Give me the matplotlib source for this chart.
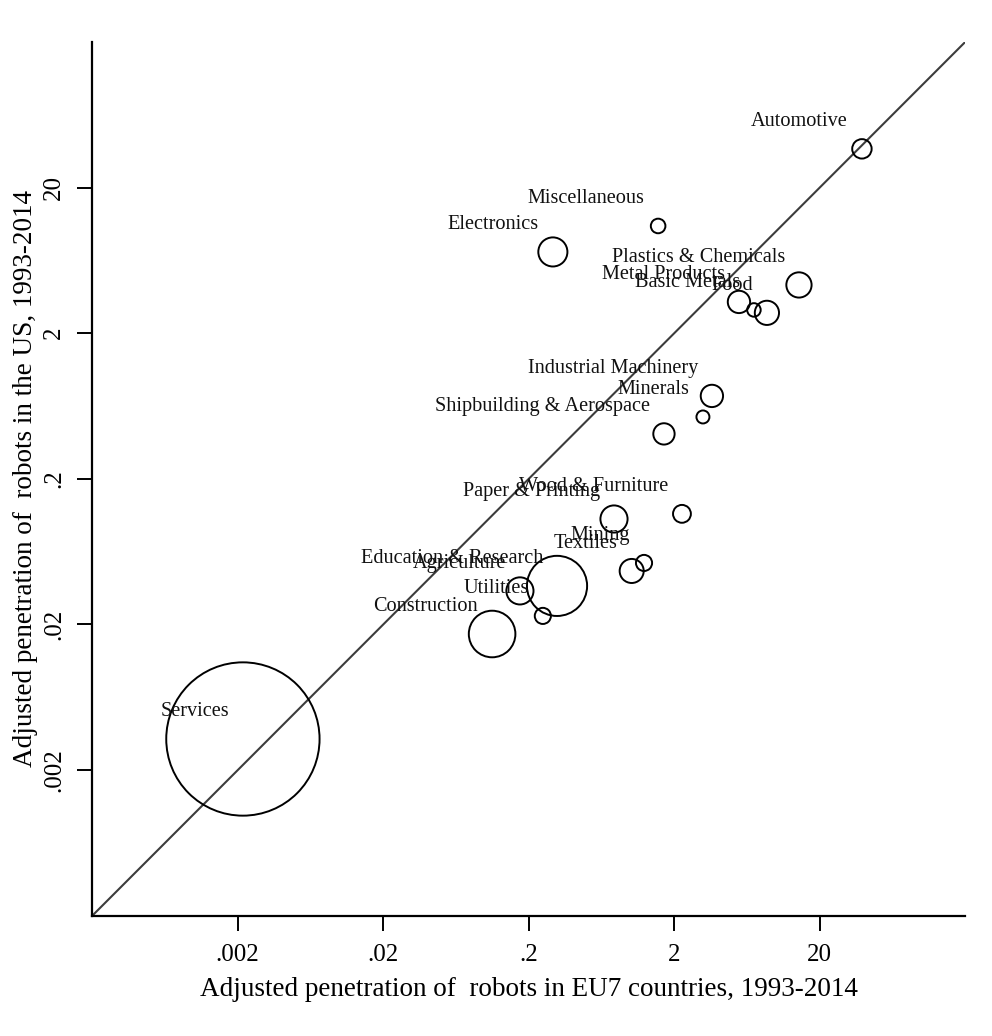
import numpy as np
import matplotlib
matplotlib.use("Agg")
import matplotlib.pyplot as plt
from matplotlib.ticker import FixedLocator, FixedFormatter, NullLocator

# Industry-level robot penetration, 1993-2014
industries = [
    "Automotive", "Miscellaneous", "Electronics", "Plastics & Chemicals",
    "Metal Products", "Basic Metals", "Food", "Industrial Machinery",
    "Minerals", "Shipbuilding & Aerospace", "Wood & Furniture",
    "Paper & Printing", "Mining", "Textiles", "Education & Research",
    "Agriculture", "Utilities", "Construction", "Services",
]
eu7_penetration = [
    39.0, 1.55, 0.293, 14.4,
    5.57, 7.06, 8.67, 3.63,
    3.15, 1.70, 2.26,
    0.771, 1.24, 1.02, 0.313,
    0.174, 0.250, 0.112, 0.00217,
]
us_penetration = [
    36.9, 10.9, 7.23, 4.29,
    3.28, 2.89, 2.76, 0.742,
    0.532, 0.407, 0.115,
    0.106, 0.0529, 0.0466, 0.0368,
    0.0340, 0.0229, 0.0172, 0.00327,
]
# employment share (%) used as bubble weight
employment_share = [
    1.03, 0.58, 2.31, 1.74,
    1.36, 0.50, 1.60, 1.36,
    0.46, 1.24, 0.87,
    2.01, 0.71, 1.58, 9.87,
    2.01, 0.71, 5.92, 64.13,
]
tick_values = [0.002, 0.02, 0.2, 2, 20]
tick_labels = [".002", ".02", ".2", "2", "20"]

plt.rcParams["font.family"] = ["Liberation Serif", "DejaVu Serif"]

fig = plt.figure(figsize=(9.92, 10.36), dpi=100)
ax = fig.add_axes([0.0930, 0.1161, 0.8800, 0.8434])

lo, hi = 0.0002, 200
ax.set_xscale("log")
ax.set_yscale("log")
ax.set_xlim(lo, hi)
ax.set_ylim(lo, hi)

# 45-degree reference line
ax.plot([lo, hi], [lo, hi], color="#3c3c3c", lw=1.5, zorder=1)

sizes = np.asarray(employment_share) * 190.0
ax.scatter(eu7_penetration, us_penetration, s=sizes, facecolors="none",
           edgecolors="black", linewidths=1.4, zorder=2)

for name, xv, yv in zip(industries, eu7_penetration, us_penetration):
    ax.annotate(name, (xv, yv), xytext=(-10, 16.5), textcoords="offset points",
                ha="right", va="baseline", fontsize=14.6, color="#111111",
                zorder=3)

for side in ("top", "right"):
    ax.spines[side].set_visible(False)
for side in ("left", "bottom"):
    ax.spines[side].set_linewidth(1.6)

ax.xaxis.set_major_locator(FixedLocator(tick_values))
ax.xaxis.set_major_formatter(FixedFormatter(tick_labels))
ax.yaxis.set_major_locator(FixedLocator(tick_values))
ax.yaxis.set_major_formatter(FixedFormatter(tick_labels))
ax.xaxis.set_minor_locator(NullLocator())
ax.yaxis.set_minor_locator(NullLocator())
ax.tick_params(axis="both", which="major", direction="out", length=10.5,
               width=1.4, labelsize=18)
ax.tick_params(axis="x", pad=10)
ax.tick_params(axis="y", pad=9)
for lbl in ax.get_yticklabels():
    lbl.set_rotation(90)
    lbl.set_va("center")

ax.set_xlabel("Adjusted penetration of  robots in EU7 countries, 1993-2014",
              fontsize=19.5, labelpad=7.5)
ax.set_ylabel("Adjusted penetration of  robots in the US, 1993-2014",
              fontsize=19.5, labelpad=4)

fig.savefig("out.png", dpi=100, facecolor="white")
